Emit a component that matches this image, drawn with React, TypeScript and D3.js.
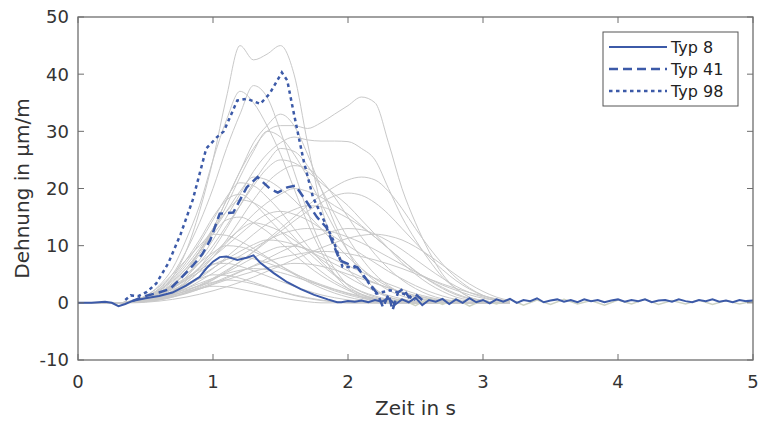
import React from "react";
import * as d3 from "d3";

const xTicks = [0, 1, 2, 3, 4, 5];
const yTicks = [-10, 0, 10, 20, 30, 40, 50];

const grayTimes = [0, 0.3, 0.4, 0.5, 0.6, 0.7, 0.8, 0.9, 1.0, 1.1, 1.2, 1.3, 1.4, 1.5, 1.6, 1.7, 1.8, 1.9, 2.0, 2.1, 2.2, 2.3, 2.4, 2.5, 2.6, 2.7, 2.8, 2.9, 3.0, 3.1, 3.2];

const grayCurves: number[][] = [
  [0, 0,0.3,0.8,2,4.5,9,16,25,36,45, 42.5,43.5,45,40,28,17,10,6,3.5,2, 1,0.5,0.2,0,0,0,0,0,0,0],
  [0, 0,0.2,0.6,1.5,3,5.5,9,13,18,23, 27,30,31,31,30.5,31.5,33,34.5,36,35, 28,20,14,9,5,2.5,1,0.4,0.1,0],
  [0, 0,0.2,0.5,1.2,2.5,4.5,7.5,11,15,19, 23,26,28,29,28.5,28.3,28.3,28.2,27,25, 20,15,11,7.5,4.5,2.5,1,0.4,0.1,0],
  [0, 0,0.3,1,2.5,5,9,14,20,27,33, 38,36,30,23,16,10,6,3,1.5,0.7, 0.3,0.1,0,0,0,0,0,0,0,0],
  [0, 0,0.4,1.2,3,6,11,17,25,32,37, 35,31,26,20,14,9,5,2.5,1,0.4, 0.1,0,0,0,0,0,0,0,0,0],
  [0, 0,0.2,0.6,1.5,3,5.5,9,13,18,23, 28,31,33,31,26,20,14,9,5,2.5, 1,0.4,0.1,0,0,0,0,0,0,0],
  [0, 0,0.2,0.5,1.2,2.5,4.5,7,10,13.5,17, 20.5,23.5,25,24.5,23,21,19,17,14.5,12, 9.5,7,5,3.3,2,1,0.5,0.2,0,0],
  [0, 0,0.3,0.8,1.8,3.5,6,9,12.5,16,19.5, 22,21.5,20,18,15.5,13,10.5,8,6,4.2, 2.8,1.7,1,0.5,0.2,0,0,0,0,0],
  [0, 0,0.1,0.4,1,2,3.5,5.5,8,10.5,13, 15.5,17.5,19,20,19.5,18.5,17,15.5,13.5,11.5, 9.5,7.5,5.5,4,2.7,1.6,0.8,0.3,0.1,0],
  [0, 0,0.3,1,2.2,4,6.5,9.5,13,16,18, 17.5,16,14,11.5,9,6.8,4.8,3.2,2,1.2, 0.6,0.3,0.1,0,0,0,0,0,0,0],
  [0, 0,0.2,0.6,1.3,2.5,4,6,8,10,12, 14,15.5,16,15.5,14.5,13,11.5,10,8.5,7, 5.5,4.2,3,2,1.2,0.6,0.3,0.1,0,0],
  [0, 0,0.3,0.9,2,3.8,6,9,12,14.5,15, 14,12.5,10.5,8.5,6.5,4.8,3.4,2.2,1.3,0.7, 0.3,0.1,0,0,0,0,0,0,0,0],
  [0, 0,0.2,0.6,1.4,2.6,4.2,6.2,8.5,10.8,12.8, 14,13.5,12.5,11,9.3,7.6,6,4.5,3.2,2.1, 1.3,0.7,0.3,0.1,0,0,0,0,0,0],
  [0, 0,0.1,0.3,0.8,1.5,2.5,3.8,5.2,6.7,8.2, 9.6,10.9,12,12.7,13,12.8,12.3,11.5,10.5,9.3, 8,6.7,5.4,4.2,3.1,2.2,1.4,0.8,0.4,0.1],
  [0, 0,0.4,1.2,2.8,5,7.5,10,12,11.8,10.8, 9.5,8,6.5,5,3.7,2.6,1.7,1,0.5,0.2, 0,0,0,0,0,0,0,0,0,0],
  [0, 0,0.2,0.5,1.1,2,3.2,4.6,6.1,7.6,9, 10.2,11,10.8,10.2,9.2,8,6.8,5.6,4.5,3.5, 2.6,1.8,1.2,0.7,0.3,0.1,0,0,0,0],
  [0, 0,0.3,0.8,1.8,3.2,5,7,8.8,10,9.8, 9,7.8,6.5,5.2,4,3,2.1,1.4,0.8,0.4, 0.2,0,0,0,0,0,0,0,0,0],
  [0, 0,0.1,0.3,0.6,1.1,1.8,2.6,3.5,4.5,5.5, 6.4,7.2,7.9,8.4,8.8,9,8.9,8.6,8.1,7.5, 6.8,6,5.1,4.2,3.3,2.5,1.8,1.2,0.7,0.3],
  [0, 0,0.3,0.8,1.6,2.7,4,5.4,6.7,7.6,8, 7.7,7,6.1,5.1,4.1,3.2,2.4,1.7,1.1,0.6, 0.3,0.1,0,0,0,0,0,0,0,0],
  [0, 0,0.3,0.9,1.8,3,4.4,5.8,6.8,6.9,6.4, 5.6,4.7,3.8,2.9,2.1,1.4,0.9,0.5,0.2,0, 0,0,0,0,0,0,0,0,0,0],
  [0, 0,0.2,0.5,1,1.7,2.5,3.4,4.3,5.1,5.7, 6,5.8,5.3,4.6,3.8,3,2.3,1.6,1,0.6, 0.3,0.1,0,0,0,0,0,0,0,0],
  [0, 0,0.3,0.7,1.4,2.3,3.3,4.2,4.9,4.8,4.3, 3.6,2.8,2,1.3,0.8,0.4,0.2,0,0,0, 0,0,0,0,0,0,0,0,0,0],
  [0, 0,0.2,0.5,1,1.6,2.3,3,3.6,4,3.8, 3.3,2.7,2,1.4,0.9,0.5,0.2,0,0,0, 0,0,0,0,0,0,0,0,0,0],
  [0, 0,0.2,0.5,0.9,1.4,2,2.5,2.9,2.8,2.4, 1.9,1.4,0.9,0.5,0.2,0,0,0,0,0, 0,0,0,0,0,0,0,0,0,0],
  [0, 0,0.1,0.3,0.7,1.3,2.1,3.1,4.3,5.7,7.2, 8.9,10.7,12.5,14.3,16,17.5,18.7,19.2,18.8,17.5, 15.5,13,10.5,8,5.8,3.9,2.4,1.3,0.6,0.2],
  [0, 0,0.1,0.4,1,2,3.5,5.5,8,11,14.5, 18,21,23,24,23.5,21.5,18.5,15,11.5,8.5, 6,4,2.5,1.4,0.7,0.3,0.1,0,0,0],
  [0, 0,0.2,0.7,1.6,3.2,5.5,8.5,12.5,17,22, 26.5,30,29,26,22,17.5,13,9,6,3.8, 2.2,1.2,0.5,0.2,0,0,0,0,0,0],
  [0, 0,0,0.1,0.3,0.6,1,1.5,2.1,2.8,3.6, 4.5,5.5,6.5,7.6,8.6,9.6,10.5,11.3,11.8,12, 11.7,11,9.8,8.3,6.6,4.9,3.3,2,1,0.4],
  [0, 0,0.3,1,2.2,4.2,7,10.5,14.5,18.5,21, 20.5,18.5,16,13,10,7.3,5,3.2,1.9,1, 0.5,0.2,0,0,0,0,0,0,0,0],
  [0, 0,0.1,0.3,0.8,1.6,2.8,4.3,6,8,10, 12,13.8,15.2,16.3,17,16.8,16,14.8,13.3,11.5, 9.5,7.5,5.6,3.9,2.5,1.4,0.7,0.3,0.1,0],
  [0, 0,0.1,0.4,1,2.1,3.8,6.2,9.3,13,17, 21,24.5,27,26.5,24,20,15.5,11.3,7.8,5, 3,1.7,0.9,0.4,0.1,0,0,0,0,0],
  [0, 0,0.1,0.3,0.7,1.3,2.1,3,4.1,5.3,6.6, 7.9,9,9.8,9.9,9.4,8.6,7.6,6.5,5.4,4.3, 3.3,2.4,1.6,1,0.5,0.2,0,0,0,0],
  [0, 0,0.1,0.2,0.5,1,1.8,2.8,4,5.5,7.2, 9,11,13,15,17,18.8,20.3,21.5,22,21.5, 19.5,16.5,13,9.7,6.8,4.4,2.6,1.3,0.5,0.2],
  [0, 0,0.1,0.3,0.6,1.1,1.7,2.4,3.2,4,4.8, 5.5,6.1,6.6,6.9,6.8,6.4,5.8,5,4.2,3.4, 2.6,1.9,1.3,0.8,0.4,0.2,0,0,0,0],
  [0, 0,0.3,1,2.4,4.5,7.5,11,15,18,19, 17.5,15,12.5,10,7.5,5.5,3.8,2.5,1.5,0.8, 0.4,0.1,0,0,0,0,0,0,0,0],
  [0, 0,0.1,0.2,0.5,1,1.6,2.4,3.3,4.3,5.4, 6.5,7.7,8.9,10,11,11.9,12.6,13,12.8,12, 10.8,9.3,7.6,5.9,4.3,2.9,1.8,1,0.4,0.1],
];

const grayTail: [number, number][] = [
  [2.3,0],[2.4,0.6],[2.5,-0.5],[2.6,0.8],[2.7,-0.3],[2.8,0.7],[2.9,-0.6],[3.0,0.5],[3.1,-0.2],[3.2,0.6],
  [3.3,-0.4],[3.4,0.5],[3.5,-0.3],[3.6,0.6],[3.7,-0.2],[3.8,0.4],[3.9,-0.4],[4.0,0.5],[4.1,-0.2],[4.2,0.6],
  [4.3,-0.3],[4.4,0.4],[4.5,-0.2],[4.6,0.5],[4.7,-0.3],[4.8,0.4],[4.9,-0.2],[5.0,0.3],
];

const typ8: [number, number][] = [
  [0,0],[0.1,0],[0.2,0.2],[0.25,0],[0.3,-0.6],[0.35,-0.2],[0.4,0.3],[0.5,0.8],[0.6,1.2],[0.7,1.8],
  [0.8,3],[0.9,4.5],[0.95,6],[1.0,7.2],[1.05,8],[1.1,8.1],[1.18,7.5],[1.25,7.9],[1.3,8.3],[1.35,7],
  [1.45,5.2],[1.55,3.6],[1.65,2.4],[1.75,1.4],[1.85,0.6],[1.92,0.1],
  [1.95,0.1],[2.0,0.3],[2.05,0.2],[2.1,0.4],[2.15,0.1],[2.2,0.5],[2.25,0.2],[2.3,0.8],[2.35,-0.3],[2.4,0.6],
  [2.45,0.1],[2.5,0.9],[2.55,-0.4],[2.6,0.5],[2.65,0.2],[2.7,0.7],[2.75,-0.2],[2.8,0.6],[2.85,0],[2.9,0.8],
  [2.95,0.1],[3.0,0.5],[3.05,-0.1],[3.1,0.6],[3.15,0.2],[3.2,0.7],[3.25,0],[3.3,0.5],[3.35,0.3],[3.4,0.8],
  [3.45,0.1],[3.5,0.4],[3.55,0.6],[3.6,0.2],[3.65,0.5],[3.7,0.1],[3.75,0.6],[3.8,0.3],[3.85,0.5],[3.9,0.1],
  [3.95,0.4],[4.0,0.6],[4.05,0.2],[4.1,0.5],[4.15,0.3],[4.2,0.6],[4.25,0.1],[4.3,0.4],[4.35,0.5],[4.4,0.2],
  [4.45,0.6],[4.5,0.3],[4.55,0.1],[4.6,0.5],[4.65,0.3],[4.7,0.6],[4.75,0.2],[4.8,0.4],[4.85,0.1],[4.9,0.5],
  [4.95,0.3],[5.0,0.4],
];

const typ41: [number, number][] = [
  [0.4,0.3],[0.5,1.2],[0.6,1.8],[0.68,2.4],[0.75,4],[0.85,6.5],[0.92,8.5],[0.98,11],[1.05,15.6],[1.15,15.8],
  [1.25,20.2],[1.33,22],[1.42,20],[1.48,19.3],[1.55,20.2],[1.61,20.5],[1.67,18.5],[1.77,15],[1.84,13.2],[1.94,7.4],
  [2.0,6.8],[2.07,6.2],[2.16,3.4],[2.22,1.5],[2.26,-0.8],[2.3,1.5],[2.33,-1.3],[2.37,1.8],[2.41,2.5],[2.45,1.0],
  [2.5,1.5],[2.55,0.5],
];

const typ98: [number, number][] = [
  [0.35,0.5],[0.39,1.3],[0.45,1.2],[0.51,1.9],[0.58,3.4],[0.67,7],[0.76,12],[0.85,18],[0.95,27],[1.03,29],
  [1.08,30],[1.18,35.4],[1.25,35.7],[1.35,34.8],[1.42,36.6],[1.51,40.3],[1.55,38.9],[1.6,33],[1.67,25],[1.74,18.5],
  [1.81,15],[1.89,11],[1.96,6.3],[2.07,6.2],[2.14,3.9],[2.21,1.6],[2.31,2.2],[2.41,1.6],[2.5,0.5],
];

const legendLabels = ["Typ 8", "Typ 41", "Typ 98"];

const W = 764, H = 421;
const left = 78, right = 753, top = 17, bottom = 360;
const BLUE = "#3c5aa8";
const FONT = "DejaVu Sans, sans-serif";

export default function App() {
  const x = d3.scaleLinear().domain([0, 5]).range([left, right]);
  const y = d3.scaleLinear().domain([-10, 50]).range([bottom, top]);
  const line = d3.line<[number, number]>().x(d => x(d[0])).y(d => y(d[1])).curve(d3.curveMonotoneX);
  const lineLin = d3.line<[number, number]>().x(d => x(d[0])).y(d => y(d[1]));
  const styles = [
    { dash: undefined, w: 2 },
    { dash: "9,5", w: 2.5 },
    { dash: "3.5,3.5", w: 2.5 },
  ];
  return (
    <svg width={W} height={H} style={{ position: "absolute", left: 0, top: 0, background: "#fff" }}>
      <rect x={0} y={0} width={W} height={H} fill="#fff" />
      <g>
        {grayCurves.map((c, i) => (
          <path key={i} d={line(grayTimes.map((t, j) => [t, c[j]] as [number, number])) || ""}
            fill="none" stroke="#c9c9c9" strokeWidth={1} />
        ))}
        <path d={lineLin(grayTail) || ""} fill="none" stroke="#cdd2c4" strokeWidth={1.5} />
        <path d={lineLin(typ8) || ""} fill="none" stroke={BLUE} strokeWidth={2} />
        <path d={lineLin(typ41) || ""} fill="none" stroke={BLUE} strokeWidth={2.5} strokeDasharray="9,5" />
        <path d={lineLin(typ98) || ""} fill="none" stroke={BLUE} strokeWidth={2.5} strokeDasharray="3.5,3.5" />
      </g>
      <rect x={left} y={top} width={right - left} height={bottom - top} fill="none" stroke="#6e6e6e" strokeWidth={1.3} />
      {xTicks.map(t => (
        <g key={"x" + t}>
          <line x1={x(t)} x2={x(t)} y1={bottom} y2={bottom - 6} stroke="#6e6e6e" />
          <line x1={x(t)} x2={x(t)} y1={top} y2={top + 6} stroke="#6e6e6e" />
          <text x={x(t)} y={388} textAnchor="middle" fontFamily={FONT} fontSize={18} fill="#333">{t}</text>
        </g>
      ))}
      {yTicks.map(t => (
        <g key={"y" + t}>
          <line x1={left} x2={left + 6} y1={y(t)} y2={y(t)} stroke="#6e6e6e" />
          <line x1={right} x2={right - 6} y1={y(t)} y2={y(t)} stroke="#6e6e6e" />
          <text x={69} y={y(t)} dy="0.36em" textAnchor="end" fontFamily={FONT} fontSize={18} fill="#333">{t}</text>
        </g>
      ))}
      <text x={(left + right) / 2} y={415} textAnchor="middle" fontFamily={FONT} fontSize={20} fill="#333">Zeit in s</text>
      <text transform={`translate(29, ${(top + bottom) / 2}) rotate(-90)`} textAnchor="middle" fontFamily={FONT} fontSize={20} fill="#333">Dehnung in µm/m</text>
      <g>
        <rect x={603} y={32} width={135} height={74} fill="#fff" stroke="#555" strokeWidth={1} />
        {legendLabels.map((l, i) => (
          <g key={l}>
            <line x1={609} x2={667} y1={47 + i * 22} y2={47 + i * 22} stroke={BLUE} strokeWidth={styles[i].w} strokeDasharray={styles[i].dash} />
            <text x={671} y={47 + i * 22} dy="0.36em" fontFamily={FONT} fontSize={16} fill="#222">{l}</text>
          </g>
        ))}
      </g>
    </svg>
  );
}
